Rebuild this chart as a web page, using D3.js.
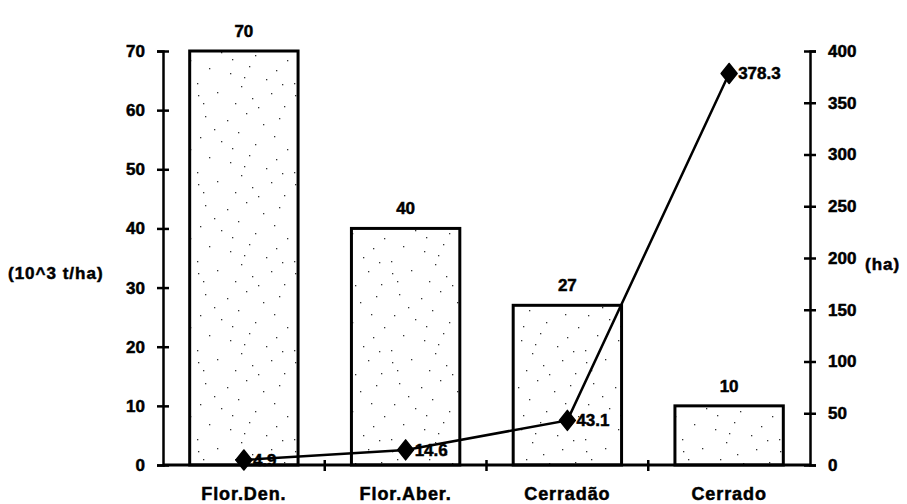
<!DOCTYPE html>
<html>
<head>
<meta charset="utf-8">
<script src="https://cdn.jsdelivr.net/npm/d3@7"></script>
<style>
  html, body { margin: 0; padding: 0; background: #fff; }
  svg text { font-family: "Liberation Sans", Arial, sans-serif; font-weight: bold; fill: #000; stroke: #000; stroke-width: 0.5px; }
</style>
</head>
<body>
<svg id="chart" width="907" height="504"></svg>
<script>
// Vegetation classes
const categories = ["Flor.Den.", "Flor.Aber.", "Cerradão", "Cerrado"];
// Bars: biomass (10^3 t/ha), left axis
const biomass = [70, 40, 27, 10];
// Line: area (ha), right axis
const area = [4.9, 14.6, 43.1, 378.3];
const leftTicks = [0, 10, 20, 30, 40, 50, 60, 70];
const rightTicks = [0, 50, 100, 150, 200, 250, 300, 350, 400];
const leftTitle = "(10^3 t/ha)";
const rightTitle = "(ha)";

const svg = d3.select("#chart");
const m = { left: 163, right: 810, top: 51, bottom: 465 };

const x = d3.scaleBand().domain(categories).range([m.left, m.right]).paddingInner(0.33).paddingOuter(0.165);
const yL = d3.scaleLinear().domain([0, 70]).range([m.bottom, m.top]);
const yR = d3.scaleLinear().domain([0, 400]).range([m.bottom, m.top]);

// Sparse stipple fill for bars
const defs = svg.append("defs");
const pat = defs.append("pattern").attr("id", "stipple").attr("patternUnits", "userSpaceOnUse")
  .attr("width", 97).attr("height", 89);
pat.append("rect").attr("width", 97).attr("height", 89).attr("fill", "#fff");
const dots = [[4,6],[23,3],[41,14],[58,9],[77,4],[90,17],[11,27],[33,31],[52,24],[69,35],[85,29],
  [6,48],[27,52],[44,43],[61,55],[80,47],[93,60],[15,68],[36,73],[55,66],[72,79],[88,84],
  [3,83],[47,86],[20,40],[64,18],[38,59],[82,70],[9,14],[50,77]];
pat.selectAll("rect.d").data(dots).join("rect").attr("class", "d")
  .attr("x", d => d[0]).attr("y", d => d[1]).attr("width", 1.3).attr("height", 1.3).attr("fill", "#333");

// Bars
svg.append("g").selectAll("rect").data(categories).join("rect")
  .attr("x", d => x(d))
  .attr("y", (d, i) => yL(biomass[i]))
  .attr("width", x.bandwidth())
  .attr("height", (d, i) => yL(0) - yL(biomass[i]))
  .attr("fill", "url(#stipple)")
  .attr("stroke", "#000").attr("stroke-width", 3);

// Bar value labels
svg.append("g").selectAll("text").data(categories).join("text")
  .attr("x", d => x(d) + x.bandwidth() / 2)
  .attr("y", (d, i) => yL(biomass[i]) - 14)
  .attr("text-anchor", "middle")
  .attr("font-size", 17)
  .text((d, i) => biomass[i]);

// Left axis
const gL = svg.append("g").attr("transform", `translate(${m.left},0)`)
  .call(d3.axisLeft(yL).tickValues(leftTicks).tickSize(6).tickPadding(12).tickFormat(d3.format("d")));
gL.select(".domain").attr("stroke", "#000").attr("stroke-width", 2.5);
gL.selectAll(".tick line").attr("x1", -6).attr("x2", 6).attr("stroke-width", 2.5);
gL.selectAll(".tick text").attr("font-size", 17).attr("font-family", "Liberation Sans, Arial, sans-serif").attr("font-weight", "bold");

// Right axis
const gR = svg.append("g").attr("transform", `translate(${m.right},0)`)
  .call(d3.axisRight(yR).tickValues(rightTicks).tickSize(6).tickPadding(12).tickFormat(d3.format("d")));
gR.select(".domain").attr("stroke", "#000").attr("stroke-width", 2.5);
gR.selectAll(".tick line").attr("x1", -6).attr("x2", 6).attr("stroke-width", 2.5);
gR.selectAll(".tick text").attr("font-size", 17).attr("font-family", "Liberation Sans, Arial, sans-serif").attr("font-weight", "bold");

// Bottom axis with category separators
const step = x.step();
const seps = categories.slice(1).map(c => x(c) - x.paddingInner() * step / 2);
svg.append("line").attr("x1", m.left).attr("x2", m.right).attr("y1", m.bottom).attr("y2", m.bottom)
  .attr("stroke", "#000").attr("stroke-width", 3);
svg.append("g").selectAll("line").data(seps).join("line")
  .attr("x1", d => d).attr("x2", d => d).attr("y1", m.bottom - 5).attr("y2", m.bottom + 6)
  .attr("stroke", "#000").attr("stroke-width", 2.5);
svg.append("g").selectAll("text").data(categories).join("text")
  .attr("x", d => x(d) + x.bandwidth() / 2)
  .attr("y", 500)
  .attr("text-anchor", "middle")
  .attr("font-size", 18)
  .attr("letter-spacing", 0.9)
  .text(d => d);

// Axis titles
svg.append("text").attr("x", 8).attr("y", 279).attr("font-size", 17).attr("letter-spacing", 1).text(leftTitle);
svg.append("text").attr("x", 865).attr("y", 270).attr("font-size", 17).attr("letter-spacing", 1).text(rightTitle);

// Area line
const cx = (d, i) => x(categories[i]) + x.bandwidth() / 2;
const line = d3.line().x((d, i) => cx(d, i)).y(d => yR(d));
svg.append("path").datum(area).attr("d", line)
  .attr("fill", "none").attr("stroke", "#000").attr("stroke-width", 2.5);

// Diamond markers
const diamond = "M0,-10L8,0L0,10L-8,0Z";
svg.append("g").selectAll("path").data(area).join("path")
  .attr("transform", (d, i) => `translate(${cx(d, i)},${yR(d)})`)
  .attr("d", diamond).attr("fill", "#000").attr("stroke", "#000").attr("stroke-width", 1.5).attr("stroke-linejoin", "round");

// Area value labels
svg.append("g").selectAll("text").data(area).join("text")
  .attr("x", (d, i) => cx(d, i) + 9)
  .attr("y", d => yR(d) + 6)
  .attr("font-size", 17)
  .text(d => d3.format(".1f")(d));
</script>
</body>
</html>
